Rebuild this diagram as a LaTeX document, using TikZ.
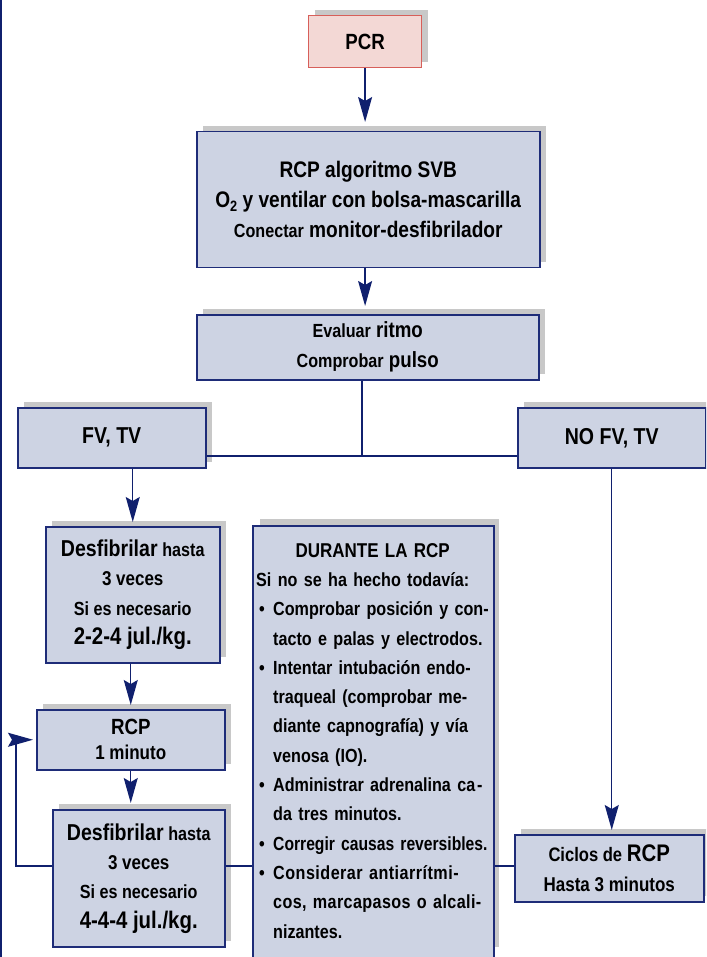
\documentclass[tikz,border=0pt]{standalone}
\usepackage{graphicx}
\usepackage{fontspec}
\setmainfont{Liberation Sans}[FakeStretch=0.85]
\usetikzlibrary{arrows.meta,shadows}

\definecolor{navy}{RGB}{16,32,110}
\definecolor{boxfill}{RGB}{205,211,227}
\definecolor{boxline}{RGB}{30,44,120}
\definecolor{shadowgray}{RGB}{200,200,200}
\definecolor{pcrfill}{RGB}{243,216,213}
\definecolor{pcrline}{RGB}{215,95,90}

% size change with a fixed line distance
\newcommand\fz[2]{\fontsize{#1}{#2}\selectfont}
% bullet, hanging indent and the two kinds of list lines
\newcommand\bul{\makebox[17pt][l]{\hspace{3pt}•}}
\newcommand\ind{\hspace*{17pt}}
\newcommand\jline[1]{\makebox[216pt][s]{#1}}
\newcommand\nline[1]{\makebox[216pt][l]{#1}}

\begin{document}
\begin{tikzpicture}[x=1pt,y=-1pt,
  plainbox/.style={draw=boxline, fill=boxfill, line width=1.5pt, inner sep=0pt,
    anchor=north west, align=center},
  box/.style={plainbox, general shadow={draw=none, fill=shadowgray,
    shadow xshift=6pt, shadow yshift=6pt}},
  startbox/.style={box, draw=pcrline, fill=pcrfill, line width=1.2pt},
  conn/.style={draw=navy, line width=1.3pt},
  arr/.style={conn, -{Stealth[length=25pt, width=14pt, inset=4pt]}},
]
\useasboundingbox (0,0) rectangle (706,957);
\clip (0,0) rectangle (706,957);

% frame line on the left edge
\draw[navy, line width=2pt] (1,0) -- (1,957);

% boxes
\node[startbox, minimum width=113pt, minimum height=52pt,
  font=\bfseries\fz{22}{26}] (pcr) at (308,15) {PCR};

\node[box, minimum width=343pt, minimum height=136pt,
  font=\bfseries\fz{22.5}{30}] (rcp) at (196,131)
  {RCP algoritmo SVB\\
   O\raisebox{-4pt}{\fz{15}{15}2} y ventilar con bolsa-mascarilla\\
   {\fz{19}{30}Conectar} monitor-desfibrilador};

\node[box, minimum width=342pt, minimum height=65pt,
  font=\bfseries\fz{22}{30}] (eval) at (196,314)
  {{\fz{19}{30}Evaluar} ritmo\\ {\fz{19}{30}Comprobar} pulso};

\node[box, minimum width=188pt, minimum height=60pt,
  font=\bfseries\fz{23}{28}] (fv) at (17,407) {FV, TV};
\node[box, minimum width=188pt, minimum height=60pt,
  font=\bfseries\fz{23}{28}] (nofv) at (517,407) {NO FV, TV};

\node[box, minimum width=174pt, minimum height=136pt,
  font=\bfseries\fz{20}{29.3}] (desf1) at (45,526)
  {{\fz{23}{29.3}Desfibrilar} {\fz{19}{29.3}hasta}\\
   3 veces\\
   {\fz{19}{29.3}Si es necesario}\\
   {\fz{24}{29.3}2-2-4 jul./kg.}};

\node[box, minimum width=188pt, minimum height=60pt,
  font=\bfseries\fz{20}{25}] (rcp1) at (36,709)
  {{\fz{22}{25}RCP}\\ 1 minuto};

\node[box, minimum width=172pt, minimum height=137pt,
  font=\bfseries\fz{20}{29.3}] (desf2) at (52,809)
  {{\fz{23}{29.3}Desfibrilar} {\fz{19}{29.3}hasta}\\
   3 veces\\
   {\fz{19}{29.3}Si es necesario}\\
   {\fz{24}{29.3}4-4-4 jul./kg.}};

% tall box running off the bottom edge
\fill[shadowgray] (260,519) rectangle (499,947);
\node[plainbox, minimum width=241pt, minimum height=450pt] (dur) at (252,525) {};
\node[anchor=north west, inner sep=0pt, text width=240pt, align=left,
  font=\bfseries\fz{19}{29.3}] (durtxt) at (256,543)
  {{\fz{20}{29.3}\makebox[233pt]{DURANTE LA RCP}}\\
   \makebox[233pt][l]{Si no se ha hecho todavía:}\\
   \bul\jline{Comprobar posición y con-}\\
   \ind\nline{tacto e palas y electrodos.}\\
   \bul\jline{Intentar intubación endo-}\\
   \ind\jline{traqueal (comprobar me-}\\
   \ind\jline{diante capnografía) y vía}\\
   \ind\nline{venosa (IO).}\\
   \bul\jline{Administrar adrenalina ca\kern2pt-}\\
   \ind\nline{da tres minutos.}\\
   \bul\nline{\scalebox{0.97}[1]{Corregir causas reversibles.}}\\
   \bul\jline{\addfontfeature{LetterSpace=2.5}Considerar antiarrítmi-}\\
   \ind\jline{\addfontfeature{LetterSpace=2}cos, marcapasos o alcali-}\\
   \ind\nline{nizantes.}};

\node[box, minimum width=189pt, minimum height=67pt,
  font=\bfseries\fz{20}{30}] (ciclos) at (514,834)
  {{\fz{19.5}{30}Ciclos de} {\fz{24}{30}RCP}\\ Hasta 3 minutos};

% connectors
\coordinate (jn) at (362,456);
\coordinate (lp) at (16,866);
\draw[arr, shorten >=9pt] (pcr.south) -- (pcr.south |- rcp.north);
\draw[arr, shorten >=8pt] (rcp.south -| pcr.south) -- (eval.north -| pcr.south);
\draw[conn] (eval.south -| jn) -- (jn);
\draw[conn] (jn -| fv.east) -- (jn -| nofv.west);
\draw[arr, shorten >=4pt] (desf1.north |- fv.south) -- (desf1.north);
\draw[arr, shorten >=4pt] (rcp1.north |- desf1.south) -- (rcp1.north);
\draw[arr, shorten >=6pt] (rcp1.south) -- (rcp1.south |- desf2.north);
\draw[arr, shorten >=3pt] (desf2.west |- lp) -- (lp) -- (lp |- rcp1.west) -- (rcp1.west);
\draw[conn] (desf2.east |- lp) -- (dur.west |- lp);
\draw[conn] (dur.east |- lp) -- (ciclos.west |- lp);
\draw[arr, shorten >=4pt] (nofv.south) -- (nofv.south |- ciclos.north);
\end{tikzpicture}
\end{document}
